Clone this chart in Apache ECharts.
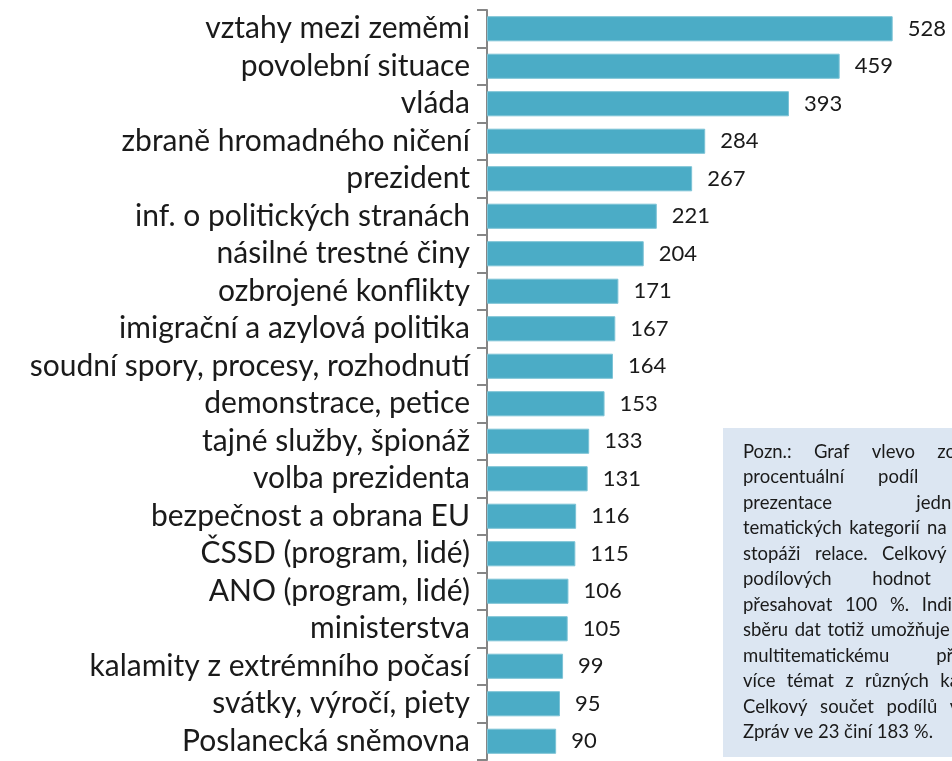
<!DOCTYPE html>
<html>
<head>
<meta charset="utf-8">
<script src="https://cdn.jsdelivr.net/npm/echarts@6/dist/echarts.min.js"></script>
<style>
    html, body {margin: 0; padding: 0; background: #fff;}
    #chart {width: 952px; height: 761px;}
</style>
</head>
<body>
<div id="chart"></div>
<script>
var categories = ['vztahy mezi zeměmi', 'povolební situace', 'vláda', 'zbraně hromadného ničení',
    'prezident', 'inf. o politických stranách', 'násilné trestné činy', 'ozbrojené konflikty',
    'imigrační a azylová politika', 'soudní spory, procesy, rozhodnutí', 'demonstrace, petice',
    'tajné služby, špionáž', 'volba prezidenta', 'bezpečnost a obrana EU', 'ČSSD (program, lidé)',
    'ANO (program, lidé)', 'ministerstva', 'kalamity z extrémního počasí', 'svátky, výročí, piety',
    'Poslanecká sněmovna'];
var values = [528, 459, 393, 284, 267, 221, 204, 171, 167, 164, 153, 133, 131, 116, 115, 106, 105, 99, 95, 90];

var noteLines = [
    'Pozn.: Graf vlevo zobrazuje',
    'procentuální podíl stopáže',
    'prezentace jednotlivých',
    'tematických kategorií na celkové',
    'stopáži relace. Celkový součet',
    'podílových hodnot může',
    'přesahovat 100 %. Individuální',
    'sběru dat totiž umožňuje přiřadit',
    'multitematickému příspěvku',
    'více témat z různých kategorií.',
    'Celkový součet podílů v relaci',
    'Zpráv ve 23 činí 183 %.'
];

var font = 'Lato';
var noteSize = 18.5;
var noteLeft = 743, noteTop = 452, noteStep = 25.5, noteWidth = 272;

// justified note text, word by word
var ctx = document.createElement('canvas').getContext('2d');
ctx.font = noteSize + 'px ' + font;
var spaceW = ctx.measureText(' ').width;
var noteTexts = [];
noteLines.forEach(function (line, i) {
    var words = line.split(' ');
    var widths = words.map(function (w) { return ctx.measureText(w).width; });
    var total = widths.reduce(function (a, b) { return a + b; }, 0);
    var gap = spaceW;
    if (i < noteLines.length - 1 && words.length > 1) {
        gap = Math.max(spaceW, (noteWidth - total) / (words.length - 1));
    }
    var x = noteLeft;
    words.forEach(function (w, j) {
        noteTexts.push({
            type: 'text',
            x: x,
            y: noteTop + i * noteStep,
            style: {
                text: w,
                fill: '#1a1a1a',
                font: noteSize + 'px ' + font,
                verticalAlign: 'middle'
            }
        });
        x += widths[j] + gap;
    });
});

var myChart = echarts.init(document.getElementById('chart'));
myChart.setOption({
    animation: false,
    grid: {
        left: 487,
        right: 4,
        top: 10,
        bottom: 1
    },
    xAxis: {
        type: 'value',
        min: 0,
        max: 600,
        show: false
    },
    yAxis: {
        type: 'category',
        inverse: true,
        data: categories,
        axisLine: {
            lineStyle: {color: '#868686', width: 2}
        },
        axisTick: {
            show: true,
            interval: 0,
            length: 10,
            lineStyle: {color: '#868686', width: 2}
        },
        axisLabel: {
            interval: 0,
            margin: 17,
            color: '#1a1a1a',
            fontFamily: font,
            fontSize: 30
        }
    },
    series: [{
        type: 'bar',
        data: values,
        barCategoryGap: '33%',
        itemStyle: {
            color: '#4BACC6',
            borderColor: '#7cc3d6',
            borderWidth: 1
        },
        label: {
            show: true,
            position: 'right',
            distance: 15,
            color: '#1a1a1a',
            fontFamily: font,
            fontSize: 22
        }
    }],
    graphic: [{
        type: 'rect',
        shape: {x: 723, y: 428, width: 300, height: 329},
        style: {fill: '#DCE6F2'}
    }].concat(noteTexts)
});
</script>
</body>
</html>
